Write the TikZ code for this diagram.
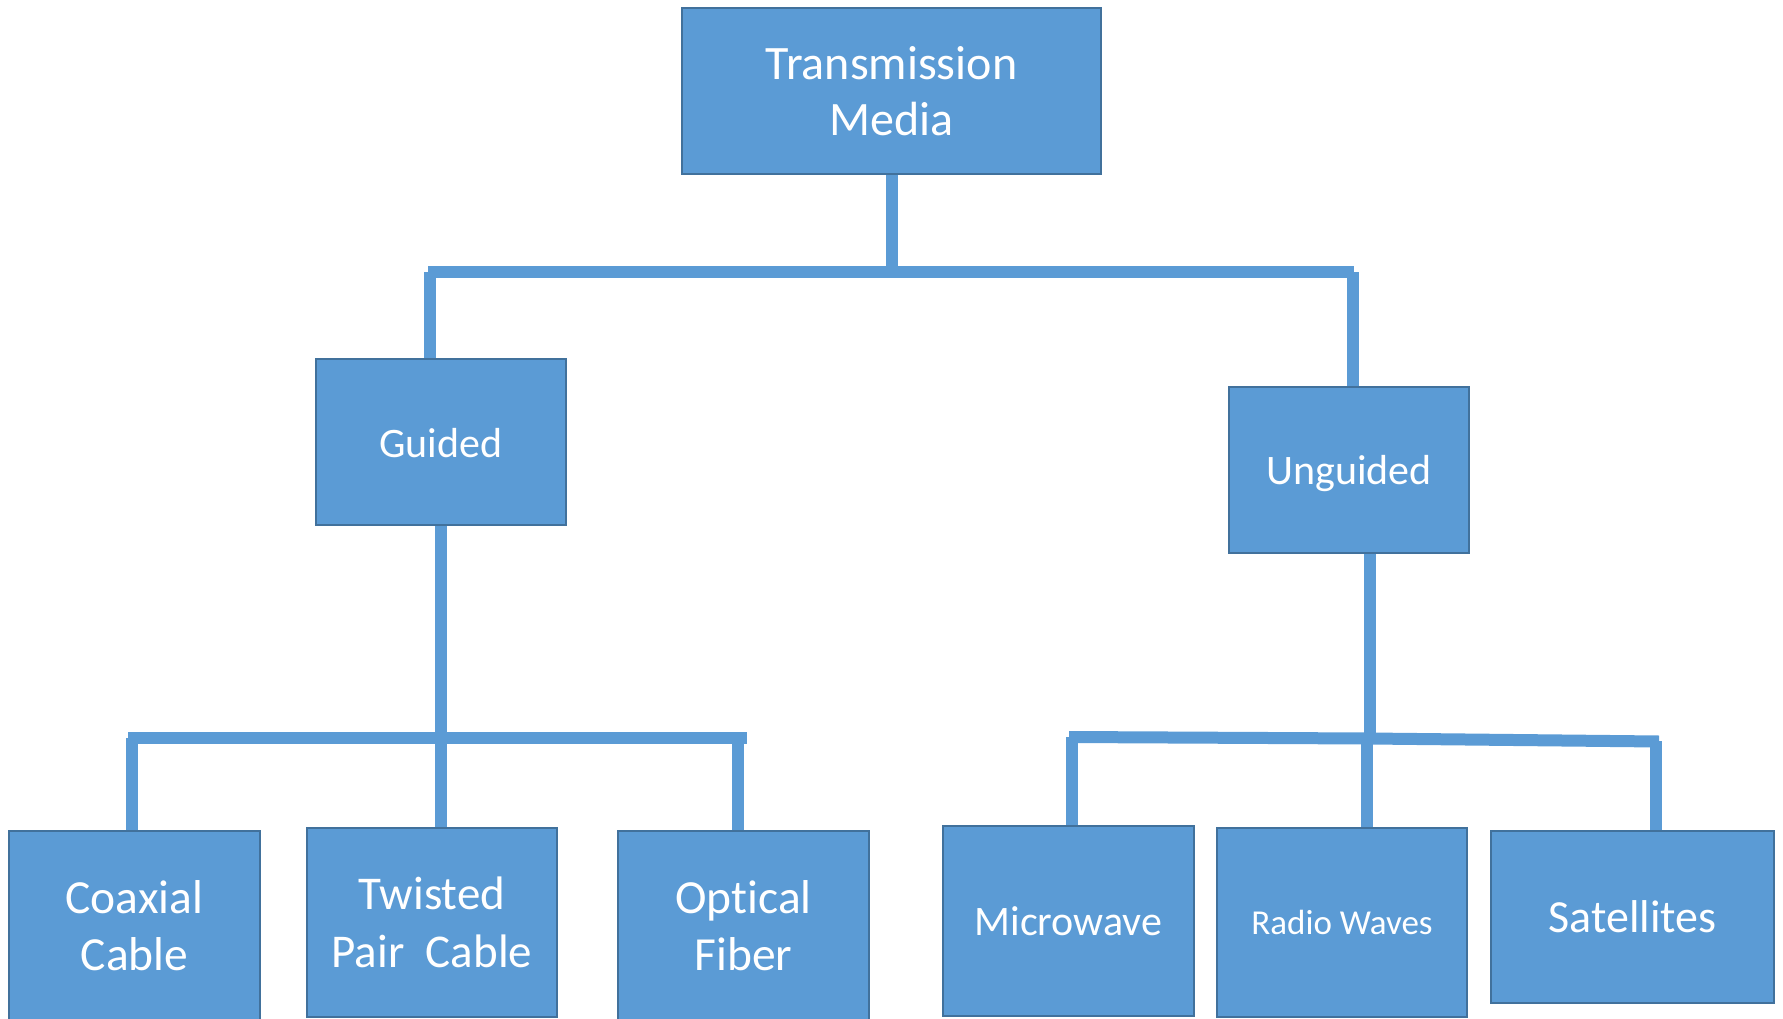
\documentclass[tikz,border=0pt]{standalone}
\usepackage{fontspec}
\setmainfont{Carlito}[Ligatures=NoCommon]
\definecolor{boxfill}{HTML}{5B9BD5}
\definecolor{boxline}{HTML}{41719C}
\definecolor{wirecol}{HTML}{5B9BD5}
\pgfdeclarelayer{wires}
\pgfsetlayers{wires,main}

\begin{document}
\begin{tikzpicture}[x=1pt,y=-1pt,
  medium/.style={draw=boxline, line width=2.5pt, fill=boxfill, text=white,
                 align=center, inner sep=0pt},
  wire/.style={draw=wirecol, line width=12pt}]
  \useasboundingbox (0,0) rectangle (1783,1019);

  % boxes
  \node[medium, minimum width=419pt, minimum height=166pt,
        font=\fontsize{48}{56.5}\selectfont] (media) at (891.5,91) {Transmission\\Media};
  \node[medium, minimum width=250pt, minimum height=166pt, text depth=0pt,
        font=\fontsize{42}{50}\selectfont] (guided) at (441,442)
        {\raisebox{-2.5pt}{Guided}};
  \node[medium, minimum width=240pt, minimum height=166pt, text depth=0pt,
        font=\fontsize{42}{50}\selectfont] (unguided) at (1349,470) {Unguided};

  \node[medium, minimum width=251pt, minimum height=189pt,
        font=\fontsize{47.5}{57}\selectfont] (coax) at (134.5,925.5) {Coaxial\\Cable};
  \node[medium, minimum width=250pt, minimum height=189pt,
        font=\fontsize{47}{57.5}\selectfont] (twisted) at (432,922.5)
        {\raisebox{-2.5pt}{Twisted}\\\raisebox{-2.5pt}{Pair~~Cable}};
  \node[medium, minimum width=251pt, minimum height=189pt,
        font=\fontsize{47.5}{57}\selectfont] (optical) at (743.5,925.5) {Optical\\Fiber};

  \node[medium, minimum width=251pt, minimum height=190pt,
        font=\fontsize{42}{50}\selectfont] (micro) at (1068.5,921) {Microwave};
  \node[medium, minimum width=250pt, minimum height=189pt,
        font=\fontsize{35}{42}\selectfont] (radio) at (1342,922.5) {Radio Waves};
  \node[medium, minimum width=283pt, minimum height=172pt,
        font=\fontsize{46}{55}\selectfont] (sat) at (1632.5,917) {Satellites};

  % junction points on the bus bars
  \coordinate (tl) at (428,272);
  \coordinate (tr) at (1354,272);
  \coordinate (gl) at (430,272);
  \coordinate (ur) at (1353,272);
  \coordinate (gs) at (440.5,738);
  \coordinate (bl) at (128,738);
  \coordinate (br) at (747,738);
  \coordinate (cd) at (131.5,738);
  \coordinate (od) at (738,738);
  \coordinate (ms) at (1069,737);
  \coordinate (rj) at (1369,738.5);
  \coordinate (se) at (1659,741.5);
  \coordinate (us) at (1370,738.5);
  \coordinate (md) at (1072,737);
  \coordinate (rd) at (1367,738.5);
  \coordinate (sd) at (1656,741);

  \begin{pgfonlayer}{wires}
    % top level
    \draw[wire] (media.south) -- (media.south |- tl);
    \draw[wire] (tl) -- (tr);
    \draw[wire] (gl) -- (gl |- guided.north);
    \draw[wire] (ur) -- (ur |- unguided.north);
    % guided branch
    \draw[wire] (gs |- guided.south) -- (gs |- twisted.north);
    \draw[wire] (bl) -- (br);
    \draw[wire] (cd) -- (cd |- coax.north);
    \draw[wire] (od) -- (od |- optical.north);
    % unguided branch
    \draw[wire] (us |- unguided.south) -- (us);
    \draw[wire] (ms) -- (rj) -- (se);
    \draw[wire] (md) -- (md |- micro.north);
    \draw[wire] (rd) -- (rd |- radio.north);
    \draw[wire] (sd) -- (sd |- sat.north);
  \end{pgfonlayer}
\end{tikzpicture}
\end{document}
